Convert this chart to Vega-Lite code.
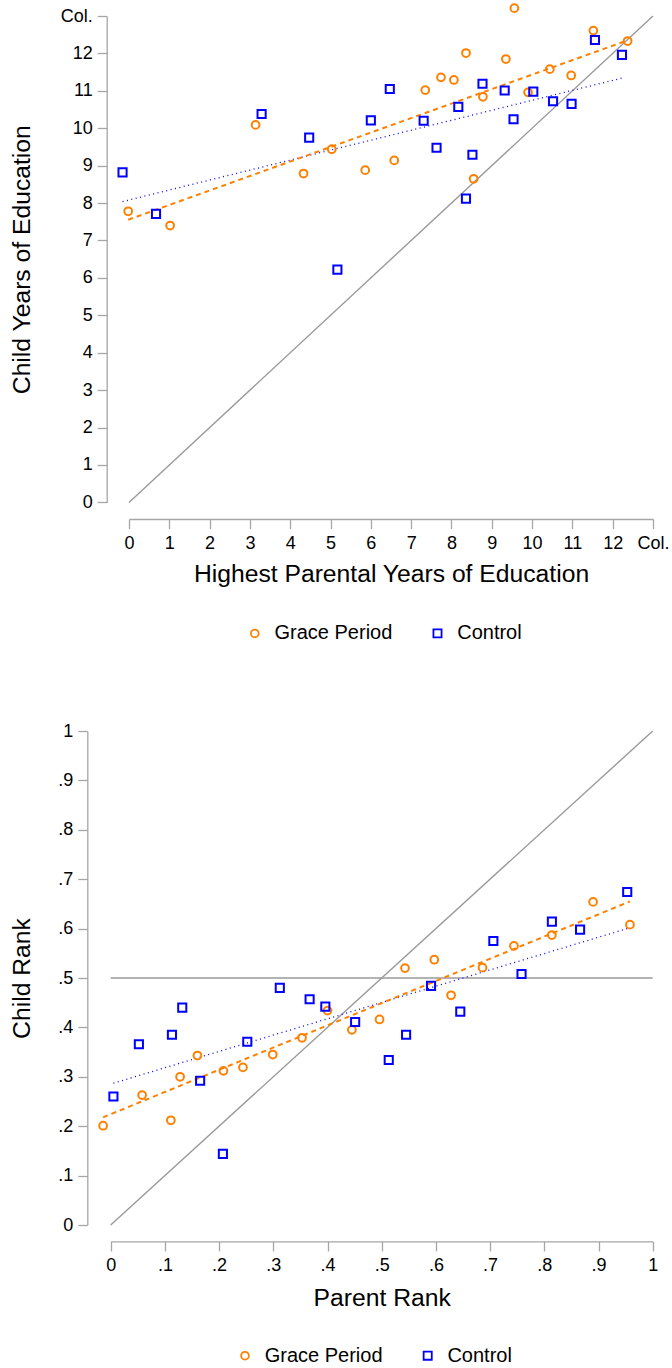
{
  "$schema": "https://vega.github.io/schema/vega-lite/v6.json",
  "padding": {"left": 9, "top": 0, "right": 5, "bottom": 5},
  "spacing": 78,
  "datasets": {
    "edu": [
      {"group": "Grace Period", "x": -0.02, "y": 7.78},
      {"group": "Grace Period", "x": 1.02, "y": 7.40},
      {"group": "Grace Period", "x": 3.14, "y": 10.09},
      {"group": "Grace Period", "x": 4.33, "y": 8.79},
      {"group": "Grace Period", "x": 5.03, "y": 9.44},
      {"group": "Grace Period", "x": 5.86, "y": 8.88},
      {"group": "Grace Period", "x": 6.58, "y": 9.14},
      {"group": "Grace Period", "x": 7.35, "y": 11.02},
      {"group": "Grace Period", "x": 7.74, "y": 11.36},
      {"group": "Grace Period", "x": 8.06, "y": 11.29},
      {"group": "Grace Period", "x": 8.36, "y": 12.01},
      {"group": "Grace Period", "x": 8.55, "y": 8.65},
      {"group": "Grace Period", "x": 8.78, "y": 10.84},
      {"group": "Grace Period", "x": 9.35, "y": 11.85},
      {"group": "Grace Period", "x": 9.56, "y": 13.21},
      {"group": "Grace Period", "x": 9.90, "y": 10.96},
      {"group": "Grace Period", "x": 10.44, "y": 11.58},
      {"group": "Grace Period", "x": 10.97, "y": 11.41},
      {"group": "Grace Period", "x": 11.52, "y": 12.61},
      {"group": "Grace Period", "x": 12.37, "y": 12.33},
      {"group": "Control", "x": -0.16, "y": 8.82},
      {"group": "Control", "x": 0.67, "y": 7.71},
      {"group": "Control", "x": 3.29, "y": 10.38},
      {"group": "Control", "x": 4.47, "y": 9.75},
      {"group": "Control", "x": 5.17, "y": 6.22},
      {"group": "Control", "x": 6.00, "y": 10.21},
      {"group": "Control", "x": 6.47, "y": 11.05},
      {"group": "Control", "x": 7.31, "y": 10.20},
      {"group": "Control", "x": 7.63, "y": 9.48},
      {"group": "Control", "x": 8.17, "y": 10.57},
      {"group": "Control", "x": 8.36, "y": 8.12},
      {"group": "Control", "x": 8.52, "y": 9.29},
      {"group": "Control", "x": 8.77, "y": 11.19},
      {"group": "Control", "x": 9.32, "y": 11.01},
      {"group": "Control", "x": 9.54, "y": 10.24},
      {"group": "Control", "x": 10.03, "y": 10.98},
      {"group": "Control", "x": 10.52, "y": 10.72},
      {"group": "Control", "x": 10.98, "y": 10.65},
      {"group": "Control", "x": 11.56, "y": 12.36},
      {"group": "Control", "x": 12.23, "y": 11.96}
    ],
    "eduFit": [
      {"group": "Grace Period", "x": -0.02, "y": 7.555},
      {"group": "Grace Period", "x": 12.37, "y": 12.35},
      {"group": "Control", "x": -0.16, "y": 8.04},
      {"group": "Control", "x": 12.23, "y": 11.34}
    ],
    "eduRef": [
      {"ref": "equal", "x": 0, "y": 0},
      {"ref": "equal", "x": 13, "y": 13}
    ],
    "rank": [
      {"group": "Grace Period", "x": -0.014, "y": 0.201},
      {"group": "Grace Period", "x": 0.058, "y": 0.263},
      {"group": "Grace Period", "x": 0.111, "y": 0.212},
      {"group": "Grace Period", "x": 0.128, "y": 0.300},
      {"group": "Grace Period", "x": 0.160, "y": 0.343},
      {"group": "Grace Period", "x": 0.208, "y": 0.312},
      {"group": "Grace Period", "x": 0.244, "y": 0.319},
      {"group": "Grace Period", "x": 0.299, "y": 0.345},
      {"group": "Grace Period", "x": 0.353, "y": 0.379},
      {"group": "Grace Period", "x": 0.400, "y": 0.434},
      {"group": "Grace Period", "x": 0.445, "y": 0.395},
      {"group": "Grace Period", "x": 0.496, "y": 0.416},
      {"group": "Grace Period", "x": 0.543, "y": 0.520},
      {"group": "Grace Period", "x": 0.597, "y": 0.537},
      {"group": "Grace Period", "x": 0.628, "y": 0.465},
      {"group": "Grace Period", "x": 0.686, "y": 0.521},
      {"group": "Grace Period", "x": 0.744, "y": 0.565},
      {"group": "Grace Period", "x": 0.814, "y": 0.587},
      {"group": "Grace Period", "x": 0.890, "y": 0.654},
      {"group": "Grace Period", "x": 0.958, "y": 0.608},
      {"group": "Control", "x": 0.005, "y": 0.260},
      {"group": "Control", "x": 0.052, "y": 0.366},
      {"group": "Control", "x": 0.113, "y": 0.385},
      {"group": "Control", "x": 0.132, "y": 0.440},
      {"group": "Control", "x": 0.165, "y": 0.292},
      {"group": "Control", "x": 0.207, "y": 0.144},
      {"group": "Control", "x": 0.252, "y": 0.371},
      {"group": "Control", "x": 0.312, "y": 0.480},
      {"group": "Control", "x": 0.367, "y": 0.457},
      {"group": "Control", "x": 0.396, "y": 0.442},
      {"group": "Control", "x": 0.451, "y": 0.411},
      {"group": "Control", "x": 0.513, "y": 0.334},
      {"group": "Control", "x": 0.545, "y": 0.385},
      {"group": "Control", "x": 0.591, "y": 0.484},
      {"group": "Control", "x": 0.645, "y": 0.432},
      {"group": "Control", "x": 0.706, "y": 0.575},
      {"group": "Control", "x": 0.758, "y": 0.508},
      {"group": "Control", "x": 0.814, "y": 0.614},
      {"group": "Control", "x": 0.866, "y": 0.598},
      {"group": "Control", "x": 0.953, "y": 0.674}
    ],
    "rankFit": [
      {"group": "Grace Period", "x": -0.014, "y": 0.218},
      {"group": "Grace Period", "x": 0.958, "y": 0.655},
      {"group": "Control", "x": 0.005, "y": 0.287},
      {"group": "Control", "x": 0.953, "y": 0.600}
    ],
    "rankRef": [
      {"ref": "equal", "x": 0, "y": 0},
      {"ref": "equal", "x": 1, "y": 1},
      {"ref": "half", "x": 0, "y": 0.5},
      {"ref": "half", "x": 1, "y": 0.5}
    ]
  },
  "vconcat": [
    {
      "width": 524,
      "height": 486.4,
      "encoding": {
        "x": {"field": "x", "type": "quantitative", "scale": {"domain": [0, 13], "nice": false, "zero": false},
              "axis": {"title": "Highest Parental Years of Education", "values": [0,1,2,3,4,5,6,7,8,9,10,11,12,13], "labelExpr": "datum.value == 13 ? 'Col.' : datum.label", "offset": 16.6, "titlePadding": 9}},
        "y": {"field": "y", "type": "quantitative", "scale": {"domain": [0, 13], "nice": false, "zero": false},
              "axis": {"title": "Child Years of Education", "values": [0,1,2,3,4,5,6,7,8,9,10,11,12,13], "labelExpr": "datum.value == 13 ? 'Col.' : datum.label", "offset": 22.3, "titleX": -72.2}}
      },
      "layer": [
        {
          "data": {"name": "eduRef"},
          "mark": {"type": "line", "color": "#9a9a9a", "strokeWidth": 1.4},
          "encoding": {"detail": {"field": "ref"}}
        },
        {
          "data": {"name": "eduFit"},
          "transform": [{"filter": "datum.group == 'Control'"}],
          "mark": {"type": "line", "color": "#0000ff", "strokeWidth": 1.3, "strokeDash": [1, 3.5]}
        },
        {
          "data": {"name": "eduFit"},
          "transform": [{"filter": "datum.group == 'Grace Period'"}],
          "mark": {"type": "line", "color": "#ff8000", "strokeWidth": 2, "strokeDash": [5, 4]}
        },
        {
          "data": {"name": "edu"},
          "mark": {"type": "point", "filled": false, "strokeWidth": 2, "opacity": 1},
          "encoding": {
            "color": {"field": "group", "type": "nominal", "scale": {"domain": ["Grace Period", "Control"], "range": ["#ff8000", "#0000ff"]}, "legend": {"title": null, "orient": "none", "legendX": 115.8, "legendY": 607.4}},
            "shape": {"field": "group", "type": "nominal", "scale": {"domain": ["Grace Period", "Control"], "range": ["circle", "square"]}, "legend": {"title": null, "orient": "none", "legendX": 115.8, "legendY": 607.4}},
            "size": {"field": "group", "type": "nominal", "scale": {"domain": ["Grace Period", "Control"], "range": [60, 66]}, "legend": null}
          }
        }
      ]
    },
    {
      "width": 524,
      "height": 494,
      "encoding": {
        "x": {"field": "x", "type": "quantitative", "scale": {"domain": [0, 1], "range": [-18.3, 523.7], "nice": false, "zero": false},
              "axis": {"title": "Parent Rank", "values": [0,0.1,0.2,0.3,0.4,0.5,0.6,0.7,0.8,0.9,1], "labelExpr": "datum.value == 0 ? '0' : datum.value == 1 ? '1' : substring(format(datum.value, '.1f'), 1)", "offset": 16.4, "titlePadding": 11}},
        "y": {"field": "y", "type": "quantitative", "scale": {"domain": [0, 1], "nice": false, "zero": false},
              "axis": {"title": "Child Rank", "values": [0,0.1,0.2,0.3,0.4,0.5,0.6,0.7,0.8,0.9,1], "labelExpr": "datum.value == 0 ? '0' : datum.value == 1 ? '1' : substring(format(datum.value, '.1f'), 1)", "offset": 41.7, "titleX": -52.8}}
      },
      "layer": [
        {
          "data": {"name": "rankRef"},
          "mark": {"type": "line", "color": "#9a9a9a", "strokeWidth": 1.4},
          "encoding": {"detail": {"field": "ref"}}
        },
        {
          "data": {"name": "rankFit"},
          "transform": [{"filter": "datum.group == 'Control'"}],
          "mark": {"type": "line", "color": "#0000ff", "strokeWidth": 1.3, "strokeDash": [1, 3.5]}
        },
        {
          "data": {"name": "rankFit"},
          "transform": [{"filter": "datum.group == 'Grace Period'"}],
          "mark": {"type": "line", "color": "#ff8000", "strokeWidth": 2, "strokeDash": [5, 4]}
        },
        {
          "data": {"name": "rank"},
          "mark": {"type": "point", "filled": false, "strokeWidth": 2, "opacity": 1},
          "encoding": {
            "color": {"field": "group", "type": "nominal", "scale": {"domain": ["Grace Period", "Control"], "range": ["#ff8000", "#0000ff"]}, "legend": {"title": null, "orient": "none", "legendX": 106, "legendY": 614.7}},
            "shape": {"field": "group", "type": "nominal", "scale": {"domain": ["Grace Period", "Control"], "range": ["circle", "square"]}, "legend": {"title": null, "orient": "none", "legendX": 106, "legendY": 614.7}},
            "size": {"field": "group", "type": "nominal", "scale": {"domain": ["Grace Period", "Control"], "range": [60, 66]}, "legend": null}
          }
        }
      ]
    }
  ],
  "resolve": {
    "scale": {"color": "independent", "shape": "independent", "size": "independent"},
    "legend": {"color": "independent", "shape": "independent"}
  },
  "config": {
    "view": {"stroke": null},
    "font": "Liberation Sans",
    "axis": {
      "domainColor": "#a6a6a6", "tickColor": "#a6a6a6", "domainWidth": 1.3, "tickWidth": 1.3, "tickSize": 9.5,
      "labelFont": "Liberation Sans", "labelFontSize": 18, "labelColor": "#000000",
      "titleFont": "Liberation Sans", "titleFontSize": 24.7, "titleFontWeight": "normal", "titleColor": "#000000",
      "grid": false, "labelOverlap": false, "labelFlush": false, "labelBound": false
    },
    "axisX": {"labelPadding": 6},
    "axisY": {"labelPadding": 5},
    "legend": {
      "direction": "horizontal",
      "labelFont": "Liberation Sans", "labelFontSize": 20, "labelColor": "#000000",
      "symbolSize": 45, "symbolStrokeWidth": 1.8, "labelOffset": 9.7, "columnPadding": 34.7
    }
  }
}
